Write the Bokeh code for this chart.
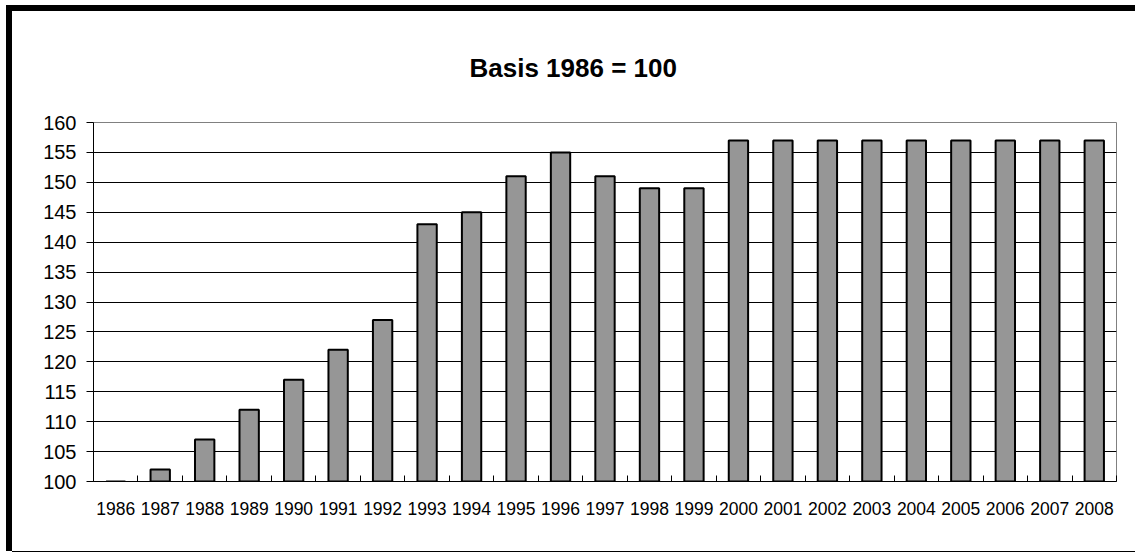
import numpy as np
from bokeh.plotting import figure
from bokeh.models import Range1d, FixedTicker, LinearAxis, Title, Grid
from bokeh.embed import file_html
from bokeh.resources import INLINE

# Index values, base year 1986 = 100
years = ["1986", "1987", "1988", "1989", "1990", "1991", "1992", "1993",
         "1994", "1995", "1996", "1997", "1998", "1999", "2000", "2001",
         "2002", "2003", "2004", "2005", "2006", "2007", "2008"]
index_values = [100, 102, 107, 112, 117, 122, 127, 143, 145, 151, 155, 151,
                149, 149, 157, 157, 157, 157, 157, 157, 157, 157, 157]
y_ticks = [100, 105, 110, 115, 120, 125, 130, 135, 140, 145, 150, 155, 160]
title_text = "Basis 1986 = 100"

FONT = "Liberation Sans"
n = len(years)
centers = np.arange(n) + 0.5
boundaries = list(range(n + 1))
base = y_ticks[0]

p = figure(
    width=1123, height=540,
    x_range=Range1d(0, n), y_range=Range1d(y_ticks[0], y_ticks[-1]),
    output_backend="svg", toolbar_location=None,
    x_axis_type=None, y_axis_type=None,
    min_border_left=81, min_border_right=19,
    min_border_top=111, min_border_bottom=70,
)
# Chart-area frame: heavy rule on the left and top, thin rule at the bottom
p.styles = {
    "margin-left": "12px", "margin-top": "11px",
    "box-shadow": "-3px -3px 0 3px black, 0 1px 0 0 black",
}
p.background_fill_color = "white"
p.border_fill_color = "white"
p.outline_line_color = "#808080"
p.outline_line_width = 1

# Title
p.add_layout(Title(text=title_text, align="left", offset=376, standoff=79,
                   text_font=FONT, text_font_size="26px",
                   text_font_style="bold", text_color="black"), "above")

# Bars
p.vbar(x=centers, top=index_values, bottom=base, width=0.435,
       fill_color="#969696", line_color="black", line_width=2)

# Y axis
yaxis = LinearAxis(ticker=FixedTicker(ticks=y_ticks))
yaxis.axis_line_color = "black"
yaxis.major_tick_line_color = "black"
yaxis.major_tick_in = 0
yaxis.major_tick_out = 7
yaxis.minor_tick_line_color = None
yaxis.major_label_text_font = FONT
yaxis.major_label_text_font_size = "20px"
yaxis.major_label_text_color = "black"
yaxis.major_label_standoff = 10
p.add_layout(yaxis, "left")

# Horizontal gridlines
p.add_layout(Grid(dimension=1, ticker=FixedTicker(ticks=y_ticks),
                  grid_line_color="black", grid_line_width=1))

# Category axis: year labels at bar centres, tick marks between categories
xaxis = LinearAxis(ticker=FixedTicker(ticks=list(centers), minor_ticks=boundaries))
xaxis.axis_line_color = "black"
xaxis.major_tick_line_color = None
xaxis.minor_tick_line_color = "black"
xaxis.minor_tick_in = 6
xaxis.minor_tick_out = 0
xaxis.major_label_overrides = {float(c): y for c, y in zip(centers, years)}
xaxis.major_label_text_font = FONT
xaxis.major_label_text_font_size = "17.5px"
xaxis.major_label_text_color = "black"
xaxis.major_label_standoff = 14
p.add_layout(xaxis, "below")

open("out.html", "w").write(file_html(p, INLINE))
